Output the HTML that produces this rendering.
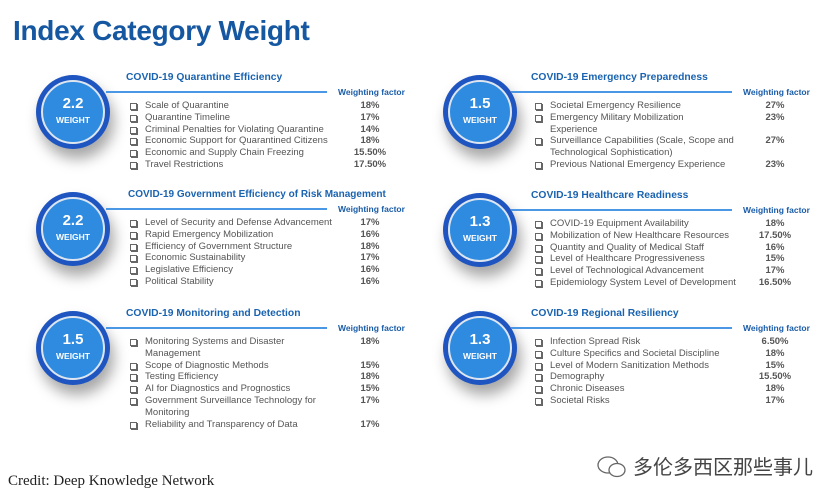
<!DOCTYPE html>
<html><head><meta charset="utf-8"><style>
body{margin:0;width:839px;height:501px;background:#fff;overflow:hidden;position:relative;font-family:"Liberation Sans",Arial,sans-serif}
.h1{position:absolute;left:13px;top:15px;font-size:28px;font-weight:bold;color:#1557a0;letter-spacing:-0.3px}
.p{position:absolute;width:420px;height:120px}
.c{position:absolute;left:36px;top:38px;width:74px;height:74px;border-radius:50%;background:#1f55c0;box-shadow:4px 10px 14px rgba(0,0,0,0.35)}
.c .i{position:absolute;left:5px;top:5px;width:60px;height:60px;border-radius:50%;background:#2f8be0;border:2px solid #dde6f0;color:#fff;text-align:center;font-weight:bold}
.c .n{position:absolute;top:13px;left:0;right:0;font-size:15px}
.c .w{position:absolute;top:33px;left:0;right:0;font-size:8.5px}
.t{position:absolute;left:126px;top:35px;font-size:10.3px;font-weight:bold;color:#1a63b0}
.l{position:absolute;left:106px;top:54px;width:221px;height:2px;background:#4a97e6}
.wf{position:absolute;left:338px;top:50px;font-size:8.5px;font-weight:bold;color:#1a5ca8}
.ls{position:absolute;left:130px;top:63px;width:290px}
.r{position:relative;font-size:9.5px;line-height:11.8px;color:#555;padding-left:15px}
.r:before{content:"";position:absolute;left:0;top:3px;width:5px;height:5px;border:1px solid #666;box-shadow:1px 1px 0 #666}
.v{position:absolute;left:210px;top:0;width:60px;text-align:center;font-weight:bold;color:#555}
.cr{position:absolute;left:8px;top:473px;font-family:"Liberation Serif",serif;font-size:15px;color:#222}
.wx{position:absolute;left:633px;top:451px;font-family:"Liberation Sans","Noto Sans CJK SC",sans-serif;font-size:20px;color:#444}
</style></head><body>
<div class="h1">Index Category Weight</div>

<div class="p" style="left:0;top:37px">
<div class="c"><div class="i"><div class="n">2.2</div><div class="w">WEIGHT</div></div></div>
<div class="t">COVID-19 Quarantine Efficiency</div><div class="l"></div><div class="wf">Weighting factor</div>
<div class="ls">
<div class="r">Scale of Quarantine<span class="v">18%</span></div>
<div class="r">Quarantine Timeline<span class="v">17%</span></div>
<div class="r">Criminal Penalties for Violating Quarantine<span class="v">14%</span></div>
<div class="r">Economic Support for Quarantined Citizens<span class="v">18%</span></div>
<div class="r">Economic and Supply Chain Freezing<span class="v">15.50%</span></div>
<div class="r">Travel Restrictions<span class="v">17.50%</span></div>
</div></div>

<div class="p" style="left:0;top:154px">
<div class="c"><div class="i"><div class="n">2.2</div><div class="w">WEIGHT</div></div></div>
<div class="t" style="left:128px;font-size:10px">COVID-19 Government Efficiency of Risk Management</div><div class="l"></div><div class="wf">Weighting factor</div>
<div class="ls">
<div class="r">Level of Security and Defense Advancement<span class="v">17%</span></div>
<div class="r">Rapid Emergency Mobilization<span class="v">16%</span></div>
<div class="r">Efficiency of Government Structure<span class="v">18%</span></div>
<div class="r">Economic Sustainability<span class="v">17%</span></div>
<div class="r">Legislative Efficiency<span class="v">16%</span></div>
<div class="r">Political Stability<span class="v">16%</span></div>
</div></div>

<div class="p" style="left:0;top:273px">
<div class="c"><div class="i"><div class="n">1.5</div><div class="w">WEIGHT</div></div></div>
<div class="t">COVID-19 Monitoring and Detection</div><div class="l"></div><div class="wf">Weighting factor</div>
<div class="ls">
<div class="r">Monitoring Systems and Disaster<br>Management<span class="v">18%</span></div>
<div class="r">Scope of Diagnostic Methods<span class="v">15%</span></div>
<div class="r">Testing Efficiency<span class="v">18%</span></div>
<div class="r">AI for Diagnostics and Prognostics<span class="v">15%</span></div>
<div class="r">Government Surveillance Technology for<br>Monitoring<span class="v">17%</span></div>
<div class="r">Reliability and Transparency of Data<span class="v">17%</span></div>
</div></div>

<div class="p" style="left:405px;top:37px">
<div class="c" style="left:38px"><div class="i"><div class="n">1.5</div><div class="w">WEIGHT</div></div></div>
<div class="t">COVID-19 Emergency Preparedness</div><div class="l"></div><div class="wf">Weighting factor</div>
<div class="ls">
<div class="r">Societal Emergency Resilience<span class="v">27%</span></div>
<div class="r">Emergency Military Mobilization<br>Experience<span class="v">23%</span></div>
<div class="r">Surveillance Capabilities (Scale, Scope and<br>Technological Sophistication)<span class="v">27%</span></div>
<div class="r">Previous National Emergency Experience<span class="v">23%</span></div>
</div></div>

<div class="p" style="left:405px;top:155px">
<div class="c" style="left:38px"><div class="i"><div class="n">1.3</div><div class="w">WEIGHT</div></div></div>
<div class="t">COVID-19 Healthcare Readiness</div><div class="l"></div><div class="wf">Weighting factor</div>
<div class="ls">
<div class="r">COVID-19 Equipment Availability<span class="v">18%</span></div>
<div class="r">Mobilization of New Healthcare Resources<span class="v">17.50%</span></div>
<div class="r">Quantity and Quality of Medical Staff<span class="v">16%</span></div>
<div class="r">Level of Healthcare Progressiveness<span class="v">15%</span></div>
<div class="r">Level of Technological Advancement<span class="v">17%</span></div>
<div class="r">Epidemiology System Level of Development<span class="v">16.50%</span></div>
</div></div>

<div class="p" style="left:405px;top:273px">
<div class="c" style="left:38px"><div class="i"><div class="n">1.3</div><div class="w">WEIGHT</div></div></div>
<div class="t">COVID-19 Regional Resiliency</div><div class="l"></div><div class="wf">Weighting factor</div>
<div class="ls">
<div class="r">Infection Spread Risk<span class="v">6.50%</span></div>
<div class="r">Culture Specifics and Societal Discipline<span class="v">18%</span></div>
<div class="r">Level of Modern Sanitization Methods<span class="v">15%</span></div>
<div class="r">Demography<span class="v">15.50%</span></div>
<div class="r">Chronic Diseases<span class="v">18%</span></div>
<div class="r">Societal Risks<span class="v">17%</span></div>
</div></div>

<div class="cr">Credit: Deep Knowledge Network</div>
<svg style="position:absolute;left:596px;top:455px" width="32" height="24" viewBox="0 0 32 24"><ellipse cx="12" cy="10" rx="10" ry="8" fill="none" stroke="#666" stroke-width="1.3"/><ellipse cx="21" cy="15" rx="8" ry="6.5" fill="#fff" stroke="#666" stroke-width="1.3"/></svg>
<div class="wx">多伦多西区那些事儿</div>
</body></html>
